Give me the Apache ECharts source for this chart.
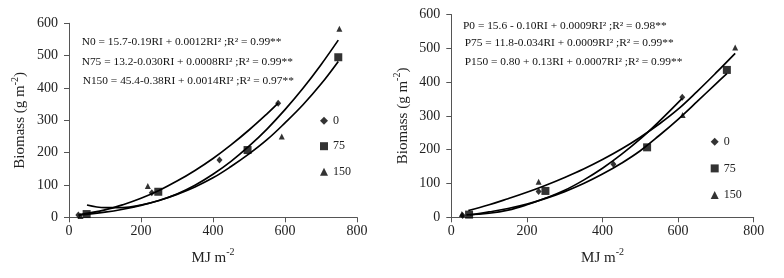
<!DOCTYPE html>
<html>
<head>
<meta charset="utf-8">
<script src="https://cdn.jsdelivr.net/npm/echarts@6/dist/echarts.min.js"></script>
<style>html,body{margin:0;padding:0;background:#fff;}#c{width:784px;height:278px;}</style>
</head>
<body>
<div id="c"></div>
<script>
// ---- data ----
const xTicks = [0, 200, 400, 600, 800];
const yTicks = [0, 100, 200, 300, 400, 500, 600];
const legendNames = ['0', '75', '150'];

// Left panel (N rates)
const n0Marks = [[26, 7], [230, 76], [418, 177], [581, 353]];
const n75Marks = [[49, 10], [248, 79], [496, 208], [748, 495]];
const n150Marks = [[32, 4], [219, 97], [591, 250], [751, 583]];
const n0Fit = [[30, 8], [100, 23], [150, 39], [200, 59], [250, 83], [300, 112], [350, 145], [400, 182], [450, 224], [500, 270], [550, 320], [581, 353]];
const n75Fit = [[26, 7], [100, 16], [150, 25], [200, 37], [250, 52], [300, 71], [350, 94], [400, 122], [450, 157], [500, 196], [550, 240], [600, 292], [650, 348], [700, 412], [748, 482]];
const n150Fit = [[50, 38], [100, 30], [150, 30], [200, 38], [250, 52], [300, 72], [350, 99], [400, 133], [450, 173], [500, 220], [550, 273], [600, 333], [650, 399], [700, 472], [748, 548]];
const leftEquations = [
  'N0 = 15.7-0.19RI + 0.0012RI² ;R² = 0.99**',
  'N75 = 13.2-0.030RI + 0.0008RI² ;R² = 0.99**',
  'N150 = 45.4-0.38RI + 0.0014RI² ;R² = 0.97**'
];

// Right panel (P rates)
const p0Marks = [[30, 5], [231, 76], [429, 157], [611, 355]];
const p75Marks = [[47, 8], [249, 78], [518, 207], [729, 436]];
const p150Marks = [[28, 10], [231, 105], [612, 303], [751, 502]];
const p0Fit = [[40, 7], [100, 12], [150, 21], [200, 37], [250, 57], [300, 80], [350, 110], [400, 145], [450, 186], [500, 232], [550, 284], [611, 352]];
const p75Fit = [[49, 7], [100, 16], [150, 26], [200, 39], [250, 56], [300, 76], [350, 100], [400, 128], [450, 160], [500, 197], [550, 242], [600, 290], [650, 342], [700, 395], [729, 425]];
const p150Fit = [[45, 20], [100, 37], [150, 55], [200, 74], [250, 95], [300, 118], [350, 143], [400, 171], [450, 202], [500, 237], [550, 276], [600, 320], [650, 372], [700, 427], [751, 485]];
const rightEquations = [
  'P0 = 15.6 - 0.10RI + 0.0009RI² ;R² = 0.98**',
  'P75 = 11.8-0.034RI + 0.0009RI² ;R² = 0.99**',
  'P150 = 0.80 + 0.13RI + 0.0007RI² ;R² = 0.99**'
];

// ---- chart ----
const FONT = '"Liberation Serif", "Times New Roman", serif';
const chart = echarts.init(document.getElementById('c'), null, {renderer: 'canvas'});

function xAxisCfg(gi) {
  return {
    gridIndex: gi, type: 'value', min: 0, max: 800, interval: 200,
    name: '{a|MJ m}{s|-2}', nameLocation: 'middle', nameGap: 30,
    nameTextStyle: {rich: {
      a: {fontFamily: FONT, fontSize: 15, color: '#222', lineHeight: 18, verticalAlign: 'bottom'},
      s: {fontFamily: FONT, fontSize: 10, color: '#222', lineHeight: 18, verticalAlign: 'top', padding: [0, 0, 6, 0]}
    }},
    axisLine: {show: true, lineStyle: {color: '#555', width: 1}},
    axisTick: {show: true, length: 5, lineStyle: {color: '#555'}},
    axisLabel: {fontFamily: FONT, fontSize: 14, color: '#222', margin: 7,
      formatter: v => xTicks.includes(v) ? String(v) : ''},
    splitLine: {show: false}
  };
}
function yAxisCfg(gi) {
  return {
    gridIndex: gi, type: 'value', min: 0, max: 600, interval: 100,
    name: '{a|Biomass (g m}{s|-2}{a|)}', nameLocation: 'middle', nameGap: 41,
    nameTextStyle: {rich: {
      a: {fontFamily: FONT, fontSize: 15, color: '#222', lineHeight: 18, verticalAlign: 'bottom'},
      s: {fontFamily: FONT, fontSize: 10, color: '#222', lineHeight: 18, verticalAlign: 'top', padding: [0, 0, 6, 0]}
    }},
    axisLine: {show: true, lineStyle: {color: '#555', width: 1}},
    axisTick: {show: true, length: 5, lineStyle: {color: '#555'}},
    axisLabel: {fontFamily: FONT, fontSize: 14, color: '#222', margin: 11,
      formatter: v => yTicks.includes(v) ? String(v) : ''},
    splitLine: {show: false}
  };
}
function fitLine(name, data, gi) {
  return {name: name, type: 'line', xAxisIndex: gi, yAxisIndex: gi, data: data,
    smooth: 0.4, showSymbol: false, symbol: 'none', silent: true,
    lineStyle: {color: '#000', width: 1.7}, z: 2};
}
function marks(name, data, gi, sym, size) {
  return {name: name, type: 'scatter', xAxisIndex: gi, yAxisIndex: gi, data: data,
    symbol: sym, symbolSize: size, itemStyle: {color: '#000'}, z: 3};
}
function eqText(txt, x, y) {
  return {type: 'text', left: x, top: y, style: {text: txt, font: '11.4px ' + FONT, fill: '#111'}};
}
function legendCfg(left, top, gap) {
  return {
    orient: 'vertical', left: left, top: top, itemGap: gap, itemWidth: 8, itemHeight: 8,
    selectedMode: false,
    textStyle: {fontFamily: FONT, fontSize: 12, color: '#222', lineHeight: 14},
    data: [{name: legendNames[0], icon: 'diamond'}, {name: legendNames[1], icon: 'rect'}, {name: legendNames[2], icon: 'triangle'}]
  };
}

const option = {
  backgroundColor: '#fff',
  animation: false,
  grid: [
    {left: 69, width: 288, top: 23.3, height: 194, containLabel: false},
    {left: 451.3, width: 302.4, top: 14.5, height: 202.8, containLabel: false}
  ],
  xAxis: [xAxisCfg(0), xAxisCfg(1)],
  yAxis: [yAxisCfg(0), yAxisCfg(1)],
  legend: [legendCfg(315, 108.7, 11.5), legendCfg(705.7, 129.7, 12.7)],
  series: [
    fitLine('N0 fit', n0Fit, 0),
    fitLine('N75 fit', n75Fit, 0),
    fitLine('N150 fit', n150Fit, 0),
    marks(legendNames[0], n0Marks, 0, 'diamond', [6, 7]),
    marks(legendNames[1], n75Marks, 0, 'rect', 8),
    marks(legendNames[2], n150Marks, 0, 'triangle', 6),
    fitLine('P0 fit', p0Fit, 1),
    fitLine('P75 fit', p75Fit, 1),
    fitLine('P150 fit', p150Fit, 1),
    marks(legendNames[0], p0Marks, 1, 'diamond', [6, 7]),
    marks(legendNames[1], p75Marks, 1, 'rect', 8),
    marks(legendNames[2], p150Marks, 1, 'triangle', 6)
  ],
  graphic: [
    eqText(leftEquations[0], 81.7, 37),
    eqText(leftEquations[1], 81.7, 57),
    eqText(leftEquations[2], 82.7, 75.5),
    eqText(rightEquations[0], 463, 20.5),
    eqText(rightEquations[1], 464.7, 38),
    eqText(rightEquations[2], 464.7, 56.5)
  ]
};
chart.setOption(option);
</script>
</body>
</html>
